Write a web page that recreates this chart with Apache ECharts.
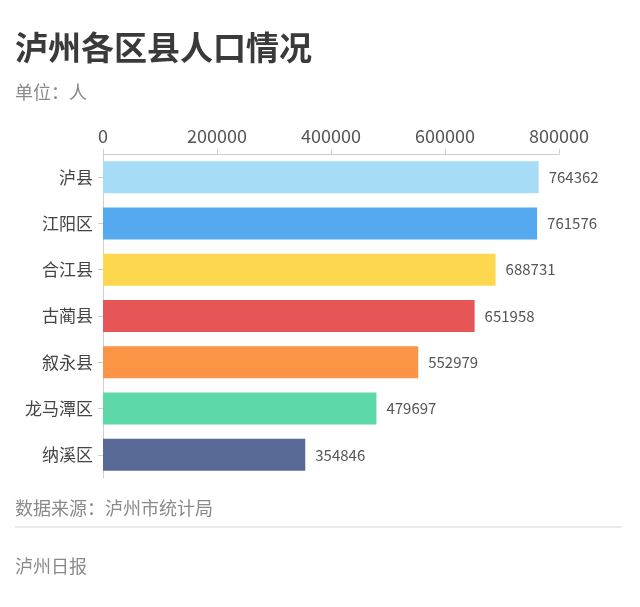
<!DOCTYPE html>
<html>
<head>
<meta charset="utf-8">
<script src="https://cdn.jsdelivr.net/npm/echarts@6/dist/echarts.min.js"></script>
<style>
  html, body { margin: 0; padding: 0; background: #fff; }
  #main { width: 640px; height: 607px; }
</style>
</head>
<body>
<div id="main"></div>
<script>
// 泸州各区县人口（单位：人）
const districts = ['泸县', '江阳区', '合江县', '古蔺县', '叙永县', '龙马潭区', '纳溪区'];
const population = [764362, 761576, 688731, 651958, 552979, 479697, 354846];
const barColors = ['#a6dcf6', '#55a9ee', '#fdd84e', '#e65656', '#fc9445', '#5dd8a8', '#5a6a97'];
const axisTicks = [0, 200000, 400000, 600000, 800000];

const font = '"Noto Sans CJK SC", "Noto Sans", sans-serif';

const chart = echarts.init(document.getElementById('main'));
chart.setOption({
    backgroundColor: '#fff',
    textStyle: { fontFamily: font },
    title: [
        {
            text: '泸州各区县人口情况',
            left: 10, top: 26,
            textStyle: { fontSize: 33, fontWeight: 'bold', color: '#3a3a3a', fontFamily: font }
        },
        {
            text: '单位：人',
            left: 10, top: 78,
            textStyle: { fontSize: 18, fontWeight: 'normal', color: '#8a8a8a', fontFamily: font }
        },
        {
            text: '数据来源：泸州市统计局',
            left: 10, top: 494,
            textStyle: { fontSize: 18, fontWeight: 'normal', color: '#8a8a8a', fontFamily: font }
        },
        {
            text: '泸州日报',
            left: 10, top: 552,
            textStyle: { fontSize: 18, fontWeight: 'normal', color: '#8a8a8a', fontFamily: font }
        }
    ],
    graphic: [
        {
            type: 'line',
            shape: { x1: 15, y1: 527, x2: 622, y2: 527 },
            style: { stroke: '#d6d6d6', lineWidth: 1 }
        }
    ],
    grid: { left: 103, right: 81, top: 154, height: 324, containLabel: false },
    xAxis: {
        type: 'value',
        position: 'top',
        min: axisTicks[0],
        max: axisTicks[axisTicks.length - 1],
        interval: axisTicks[1] - axisTicks[0],
        axisLine: { show: true, lineStyle: { color: '#cfcfcf' } },
        axisTick: { show: true, length: 5, lineStyle: { color: '#cfcfcf' } },
        splitLine: { show: false },
        axisLabel: {
            color: '#555', fontSize: 18, margin: 9, fontFamily: font,
            formatter: v => String(v)
        }
    },
    yAxis: {
        type: 'category',
        inverse: true,
        data: districts,
        axisLine: { show: true, lineStyle: { color: '#cfcfcf' } },
        axisTick: { show: true, length: 5, alignWithLabel: true, lineStyle: { color: '#cfcfcf' } },
        axisLabel: { color: '#444', fontSize: 17, margin: 10, fontFamily: font }
    },
    series: [
        {
            type: 'bar',
            data: population.map((v, i) => ({ value: v, itemStyle: { color: barColors[i] } })),
            barWidth: 32,
            label: {
                show: true,
                position: 'right',
                distance: 10,
                color: '#555',
                fontSize: 15,
                fontFamily: font
            }
        }
    ]
});
</script>
</body>
</html>
